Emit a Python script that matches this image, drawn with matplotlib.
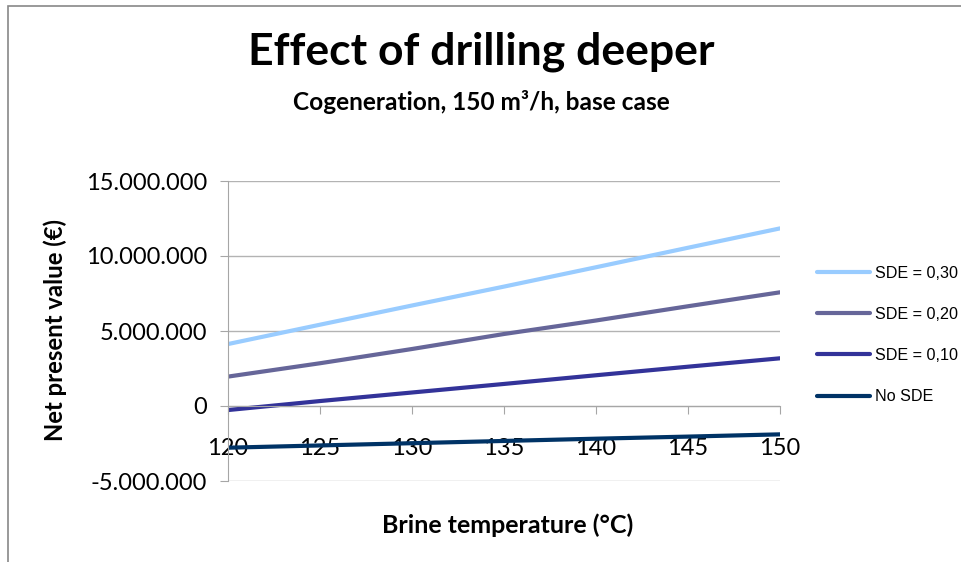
import matplotlib as mpl
mpl.use('Agg')
import matplotlib.pyplot as plt
from matplotlib.patches import Rectangle
from matplotlib.ticker import FuncFormatter, MultipleLocator

# brine temperature (degC)
temps = [120, 125, 130, 135, 140, 145, 150]

# net present value (EUR)
npv_sde30 = [4130000, 5420000, 6700000, 7960000, 9250000, 10550000, 11840000]
npv_sde20 = [1960000, 2850000, 3800000, 4800000, 5700000, 6650000, 7580000]
npv_sde10 = [-270000, 330000, 900000, 1470000, 2050000, 2620000, 3180000]
npv_nosde = [-2780000, -2630000, -2480000, -2330000, -2180000, -2040000, -1890000]

labels = ['SDE = 0,30', 'SDE = 0,20', 'SDE = 0,10', 'No SDE']
colors = ['#99ccff', '#666699', '#333399', '#003366']

plt.rcParams['font.family'] = ['Lato', 'DejaVu Sans']

fg = plt.figure(figsize=(9.62, 5.62), dpi=100)
ax = fg.add_axes([228/962, 1-481/562, 552/962, 300/562])

for vals, lab, col in zip([npv_sde30, npv_sde20, npv_sde10, npv_nosde], labels, colors):
    ax.plot(temps, vals, color=col, lw=3, label=lab, solid_capstyle='round')

ax.set_xlim(120, 150)
ax.set_ylim(-5000000, 15000000)
ax.yaxis.set_major_locator(MultipleLocator(5000000))
ax.xaxis.set_major_locator(MultipleLocator(5))
ax.yaxis.set_major_formatter(FuncFormatter(lambda v, p: '{:,}'.format(int(v)).replace(',', '.')))
ax.grid(axis='y', color='#b3b3b3', lw=1)
ax.set_axisbelow(True)

for s in ['top', 'right']:
    ax.spines[s].set_visible(False)
ax.spines['bottom'].set_position(('data', 0))
ax.spines['bottom'].set_color('#a6a6a6')
ax.spines['left'].set_color('#a6a6a6')
ax.tick_params(axis='y', length=6, color='#a6a6a6', pad=9, labelsize=17)
ax.tick_params(axis='x', length=6, color='#a6a6a6', pad=17, labelsize=17)

fg.text(0.5, 1-52/562, 'Effect of drilling deeper', ha='center', va='center',
        fontsize=32, fontweight='bold')
fg.text(0.5, 1-102/562, 'Cogeneration, 150 m\u00b3/h, base case', ha='center', va='center',
        fontsize=17.6, fontweight='bold')
fg.text(508/962, 1-525/562, 'Brine temperature (\u00b0C)', ha='center', va='center',
        fontsize=18, fontweight='bold')
fg.text(55/962, 1-330/562, 'Net present value (\u20ac)', ha='center', va='center',
        rotation=90, fontsize=17.2, fontweight='bold')

# legend at the right edge, sized so the labels stay inside the figure
fg.legend(loc='center left', bbox_to_anchor=(817/962, 1-335/562), frameon=False,
          prop={'family': 'Liberation Sans', 'size': 11.6}, handlelength=3.3,
          handletextpad=0.31, labelspacing=1.62, borderpad=0, borderaxespad=0)

# chart area border (cut off at right and bottom)
fg.patches.append(Rectangle((8/962, -0.1), 1.2, 1-6/562+0.1, transform=fg.transFigure,
                            fill=False, edgecolor='#888888', lw=1.2))

fg.savefig('out.png', dpi=100)
